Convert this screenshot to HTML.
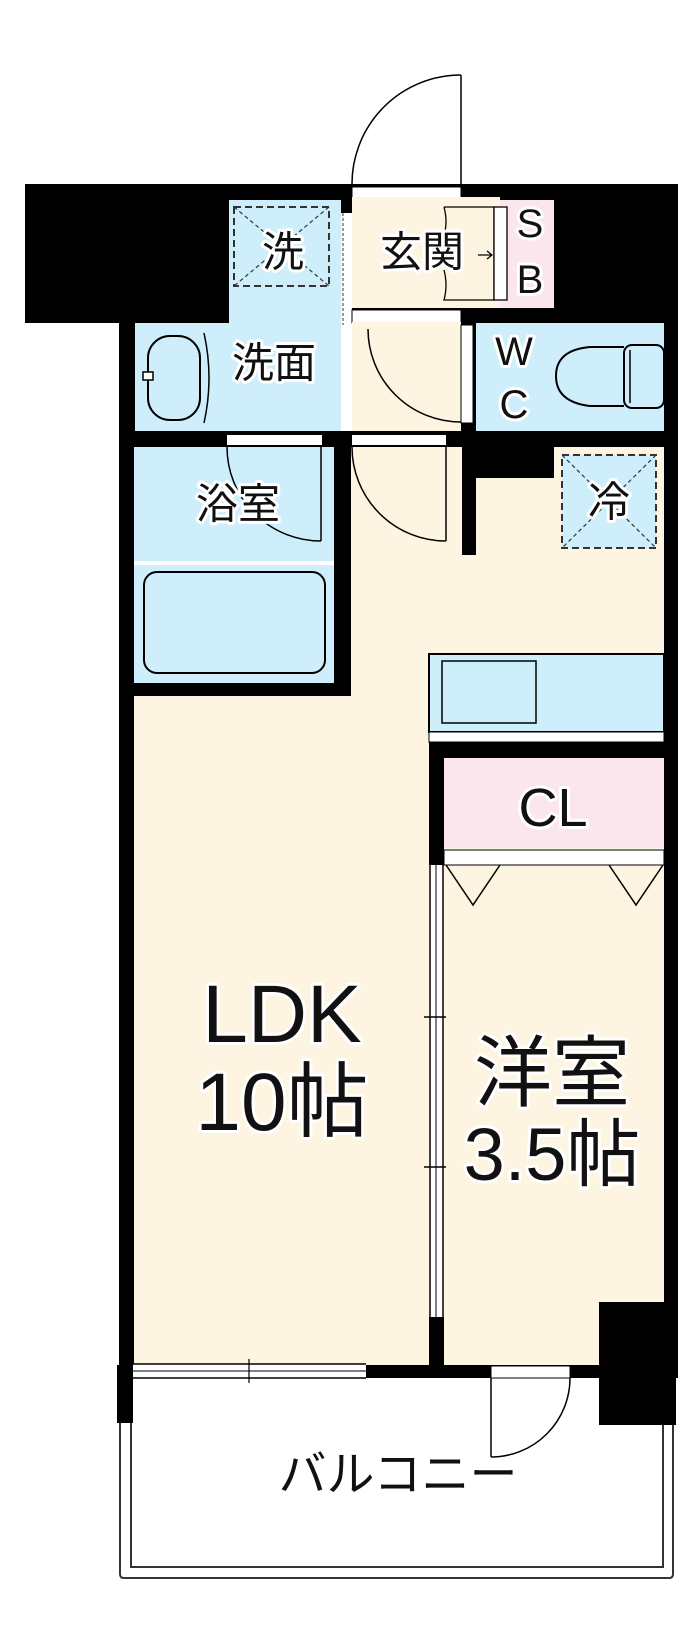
<!DOCTYPE html>
<html><head><meta charset="utf-8"><style>
html,body{margin:0;padding:0;background:#fff;}
svg{display:block;}
text{font-family:"Liberation Sans","Noto Sans CJK JP",sans-serif;fill:#111;paint-order:stroke;stroke:#fff;stroke-width:6;stroke-linejoin:round;}
</style></head><body>
<svg width="700" height="1648" viewBox="0 0 700 1648" xmlns="http://www.w3.org/2000/svg">
<rect width="700" height="1648" fill="#fff"/>
<line x1="461" y1="75" x2="461" y2="186" stroke="#000" stroke-width="1.5"/>
<path d="M352,186 A109,109 0 0 1 461,75" fill="none" stroke="#000" stroke-width="1.5"/>
<rect x="25" y="184" width="100" height="139" fill="#000"/>
<rect x="119" y="184" width="559" height="1194" fill="#000"/>
<rect x="599" y="1302" width="77" height="123" fill="#000"/>
<rect x="117" y="1365" width="16" height="58" fill="#000"/>

<rect x="229" y="200" width="112" height="126" fill="#cdeefa"/>
<rect x="135" y="323" width="206" height="108" fill="#cdeefa"/>
<rect x="341" y="213" width="11" height="218" fill="#fff"/>
<line x1="343" y1="213" x2="343" y2="325" stroke="#555" stroke-width="1.2" stroke-dasharray="3,2"/>
<rect x="234" y="207" width="95" height="79" fill="none" stroke="#333" stroke-width="2" stroke-dasharray="7,4"/>
<line x1="234" y1="207" x2="329" y2="286" stroke="#333" stroke-width="1.2" stroke-dasharray="4,3"/>
<line x1="329" y1="207" x2="234" y2="286" stroke="#333" stroke-width="1.2" stroke-dasharray="4,3"/>
<path d="M204,333 Q214,378 204,423" fill="none" stroke="#000" stroke-width="1.5"/>
<rect x="148" y="336" width="52" height="84" rx="22" fill="#cdeefa" stroke="#000" stroke-width="2"/>
<rect x="143" y="372" width="10" height="8" fill="#fff" stroke="#000" stroke-width="1.5"/>

<rect x="352" y="187" width="109" height="13" fill="#fff" stroke="#000" stroke-width="1"/>
<rect x="352" y="197" width="148" height="111" fill="#fdf5e1"/>
<rect x="500" y="200" width="54" height="108" fill="#fce6ee"/>
<path d="M444,207 L494,207 L494,300 L444,300 Q448,285 444,270 M444,207 Q448,222 444,235" fill="none" stroke="#000" stroke-width="1.3"/>
<rect x="494" y="207" width="13" height="93" fill="#fff" stroke="#000" stroke-width="1.3"/>
<path d="M478,255 L492,255 M487,251 L492,255 L487,259" fill="none" stroke="#000" stroke-width="1.2"/>
<rect x="352" y="310" width="109" height="13" fill="#fff" stroke="#000" stroke-width="1"/>

<rect x="352" y="322" width="109" height="109" fill="#fdf5e1"/>
<rect x="461" y="325" width="12" height="98" fill="#fff" stroke="#000" stroke-width="1"/>
<path d="M368,329 A93,93 0 0 0 461,422" fill="none" stroke="#000" stroke-width="1.5"/>

<rect x="476" y="323" width="188" height="108" fill="#cdeefa"/>
<path d="M624,347 L590,347 Q556,350 556,376 Q556,402 590,406 L624,406" fill="#cdeefa" stroke="#000" stroke-width="2"/>
<rect x="624" y="345" width="40" height="63" rx="8" fill="#cdeefa" stroke="#000" stroke-width="2"/>
<line x1="630" y1="350" x2="630" y2="403" stroke="#000" stroke-width="1.5"/>

<rect x="227" y="435" width="95" height="10" fill="#fff"/>
<rect x="352" y="435" width="94" height="10" fill="#fff"/>

<rect x="134" y="447" width="200" height="114" fill="#cdeefa"/>
<rect x="134" y="561" width="200" height="4" fill="#fff"/>
<rect x="134" y="565" width="200" height="118" fill="#cdeefa"/>
<rect x="144" y="572" width="181" height="101" rx="13" fill="#cdeefa" stroke="#000" stroke-width="2"/>
<line x1="321" y1="447" x2="321" y2="541" stroke="#000" stroke-width="1.5"/>
<path d="M227,447 A94,94 0 0 0 321,541" fill="none" stroke="#000" stroke-width="1.5"/>

<rect x="351" y="447" width="313" height="918" fill="#fdf5e1"/>
<rect x="134" y="696" width="300" height="669" fill="#fdf5e1"/>
<rect x="599" y="1302" width="77" height="123" fill="#000"/>
<rect x="462" y="447" width="14" height="108" fill="#000"/>
<rect x="462" y="447" width="92" height="31" fill="#000"/>
<line x1="446" y1="447" x2="446" y2="541" stroke="#000" stroke-width="1.5"/>
<path d="M352,447 A94,94 0 0 0 446,541" fill="none" stroke="#000" stroke-width="1.5"/>
<rect x="562" y="455" width="94" height="93" fill="#cdeefa" stroke="#333" stroke-width="2" stroke-dasharray="7,4"/>
<line x1="562" y1="455" x2="656" y2="548" stroke="#333" stroke-width="1.2" stroke-dasharray="4,3"/>
<line x1="656" y1="455" x2="562" y2="548" stroke="#333" stroke-width="1.2" stroke-dasharray="4,3"/>
<rect x="429" y="654" width="235" height="78" fill="#cdeefa" stroke="#000" stroke-width="2"/>
<rect x="442" y="661" width="94" height="62" fill="#cdeefa" stroke="#000" stroke-width="1.5"/>
<rect x="429" y="732" width="235" height="10" fill="#fff" stroke="#000" stroke-width="1"/>
<rect x="429" y="742" width="235" height="16" fill="#000"/>
<rect x="429" y="742" width="15" height="123" fill="#000"/>
<rect x="444" y="758" width="220" height="90" fill="#fce6ee"/>
<rect x="444" y="850" width="220" height="15" fill="#fff" stroke="#000" stroke-width="1"/>
<path d="M446,865 L473,905 L500,865 M609,865 L636,905 L663,865" fill="none" stroke="#000" stroke-width="1.5"/>
<rect x="429" y="865" width="15" height="452" fill="#fff"/>
<line x1="430" y1="865" x2="430" y2="1317" stroke="#000" stroke-width="1.5"/>
<line x1="436" y1="865" x2="436" y2="1317" stroke="#000" stroke-width="1"/>
<line x1="443" y1="865" x2="443" y2="1317" stroke="#000" stroke-width="1.5"/>
<line x1="424" y1="1017" x2="446" y2="1017" stroke="#000" stroke-width="1.5"/>
<line x1="424" y1="1167" x2="446" y2="1167" stroke="#000" stroke-width="1.5"/>
<rect x="429" y="1317" width="15" height="50" fill="#000"/>

<rect x="133" y="1364" width="233" height="14" fill="#fff"/>
<line x1="133" y1="1364" x2="366" y2="1364" stroke="#000" stroke-width="1.5"/>
<line x1="133" y1="1371" x2="366" y2="1371" stroke="#000" stroke-width="1"/>
<line x1="133" y1="1378" x2="366" y2="1378" stroke="#000" stroke-width="1.5"/>
<line x1="249" y1="1359" x2="249" y2="1383" stroke="#000" stroke-width="1.2"/>
<rect x="491" y="1366" width="79" height="12" fill="#fff" stroke="#000" stroke-width="1"/>
<line x1="491" y1="1378" x2="491" y2="1457" stroke="#000" stroke-width="1.5"/>
<path d="M570,1378 A79,79 0 0 1 491,1457" fill="none" stroke="#000" stroke-width="1.5"/>

<path d="M120,1423 L120,1574 Q120,1578 124,1578 L669,1578 Q673,1578 673,1574 L673,1425" fill="none" stroke="#333" stroke-width="2"/>
<path d="M131,1423 L131,1567 L663,1567 L663,1425" fill="none" stroke="#333" stroke-width="2"/>

<text x="283" y="252" font-size="42" text-anchor="middle" dominant-baseline="central">洗</text>
<text x="422" y="252" font-size="42" text-anchor="middle" dominant-baseline="central">玄関</text>
<text x="530" y="224" font-size="40" text-anchor="middle" dominant-baseline="central">S</text>
<text x="530" y="280" font-size="40" text-anchor="middle" dominant-baseline="central">B</text>
<text x="274" y="363" font-size="42" text-anchor="middle" dominant-baseline="central">洗面</text>
<text x="514" y="352" font-size="40" text-anchor="middle" dominant-baseline="central">W</text>
<text x="514" y="405" font-size="40" text-anchor="middle" dominant-baseline="central">C</text>
<text x="238" y="504" font-size="42" text-anchor="middle" dominant-baseline="central">浴室</text>
<text x="609" y="502" font-size="42" text-anchor="middle" dominant-baseline="central">冷</text>
<text x="553" y="826" font-size="54" text-anchor="middle">CL</text>
<text x="282" y="1042" font-size="82" text-anchor="middle">LDK</text>
<text x="282" y="1130" font-size="82" text-anchor="middle">10帖</text>
<text x="552" y="1100" font-size="78" text-anchor="middle">洋室</text>
<text x="552" y="1180" font-size="74" text-anchor="middle">3.5帖</text>
<text x="398" y="1475" font-size="48" text-anchor="middle" dominant-baseline="central">バルコニー</text>
</svg>
</body></html>
